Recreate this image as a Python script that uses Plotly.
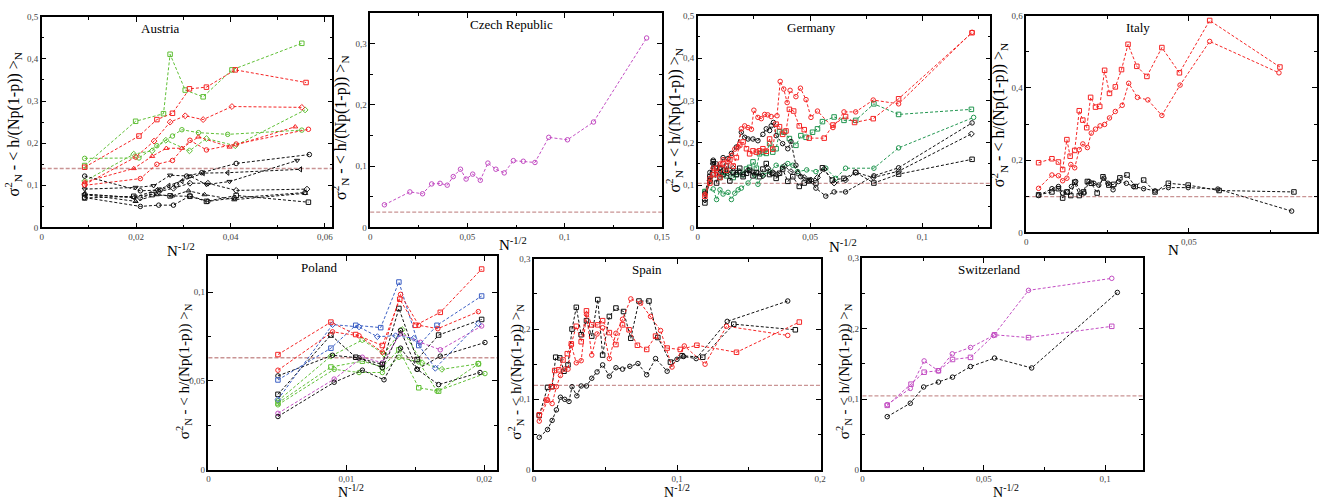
import plotly.graph_objects as go

# ---------------- DATA ----------------
countries = ["Austria", "Czech Republic", "Germany", "Italy", "Poland", "Spain", "Switzerland"]
x_titles = ["N<sup>-1/2</sup>", "N<sup>-1/2</sup>", "N<sup>-1/2</sup>", "N", "N<sup>-1/2</sup>", "N<sup>-1/2</sup>", "N<sup>-1/2</sup>"]
y_title = "σ<sup>2</sup><sub>N</sub> - < h/(Np(1-p)) ><sub>N</sub>"
ref_levels = [0.140, 0.025, 0.104, 0.099, 0.063, 0.120, 0.1045]

# Austria
at_green_sq_x = [0.0091, 0.0199, 0.0258, 0.0272, 0.0304, 0.0342, 0.0403, 0.0551]
at_green_sq_y = [0.147, 0.252, 0.270, 0.411, 0.326, 0.310, 0.374, 0.437]
at_red_sq_x = [0.0091, 0.0206, 0.0244, 0.0277, 0.0313, 0.0349, 0.0410, 0.0560]
at_red_sq_y = [0.143, 0.217, 0.256, 0.271, 0.329, 0.333, 0.374, 0.344]
at_red_di_x = [0.0091, 0.0199, 0.0238, 0.0272, 0.0304, 0.0342, 0.0403, 0.0551]
at_red_di_y = [0.102, 0.167, 0.205, 0.250, 0.265, 0.256, 0.287, 0.285]
at_red_tr_x = [0.0091, 0.0195, 0.0234, 0.0264, 0.0297, 0.0332, 0.0398, 0.0537]
at_red_tr_y = [0.108, 0.140, 0.169, 0.188, 0.188, 0.215, 0.191, 0.239]
at_red_ci_x = [0.0091, 0.0209, 0.0244, 0.0277, 0.0314, 0.0349, 0.0412, 0.0565]
at_red_ci_y = [0.100, 0.116, 0.150, 0.159, 0.207, 0.184, 0.198, 0.233]
at_green_ci_x = [0.0091, 0.0206, 0.0244, 0.0277, 0.0297, 0.0332, 0.0394, 0.0551]
at_green_ci_y = [0.164, 0.165, 0.194, 0.217, 0.232, 0.225, 0.221, 0.231]
at_green_di_x = [0.0091, 0.0195, 0.0234, 0.0263, 0.0313, 0.0349, 0.0410, 0.0558]
at_green_di_y = [0.110, 0.174, 0.182, 0.207, 0.182, 0.211, 0.194, 0.279]
at_blk_ci1_x = [0.0091, 0.0209, 0.0251, 0.0286, 0.0307, 0.0339, 0.0412, 0.0567]
at_blk_ci1_y = [0.122, 0.087, 0.089, 0.101, 0.122, 0.130, 0.152, 0.173]
at_blk_td_x = [0.0091, 0.0199, 0.0237, 0.0272, 0.0314, 0.0349, 0.0398, 0.0541]
at_blk_td_y = [0.091, 0.095, 0.099, 0.124, 0.122, 0.102, 0.109, 0.159]
at_blk_tl_x = [0.0091, 0.0195, 0.0244, 0.0269, 0.0297, 0.0342, 0.0394, 0.0548]
at_blk_tl_y = [0.079, 0.071, 0.089, 0.099, 0.110, 0.129, 0.130, 0.138]
at_blk_di_x = [0.0091, 0.0209, 0.0248, 0.0279, 0.0314, 0.0352, 0.0412, 0.0562]
at_blk_di_y = [0.079, 0.070, 0.085, 0.093, 0.105, 0.105, 0.088, 0.091]
at_blk_tu_x = [0.0091, 0.0199, 0.0244, 0.0276, 0.0311, 0.0345, 0.0408, 0.0558]
at_blk_tu_y = [0.078, 0.062, 0.078, 0.075, 0.087, 0.078, 0.066, 0.081]
at_blk_sq_x = [0.0091, 0.0195, 0.0234, 0.0272, 0.0314, 0.0349, 0.0412, 0.0565]
at_blk_sq_y = [0.070, 0.074, 0.078, 0.075, 0.074, 0.062, 0.076, 0.060]
at_blk_ci2_x = [0.0091, 0.0209, 0.0248, 0.0279, 0.0314, 0.0352, 0.0408, 0.0558]
at_blk_ci2_y = [0.071, 0.050, 0.053, 0.053, 0.075, 0.062, 0.070, 0.083]

# Czech Republic
cz_x = [0.0073, 0.0204, 0.0269, 0.0316, 0.0359, 0.0396, 0.0427, 0.0464, 0.0493, 0.0527, 0.0566,
        0.0605, 0.0646, 0.0689, 0.0736, 0.0787, 0.0847, 0.0918, 0.1014, 0.1148, 0.1421]
cz_y = [0.037, 0.058, 0.055, 0.071, 0.072, 0.069, 0.083, 0.095, 0.079, 0.087, 0.077,
        0.105, 0.095, 0.089, 0.109, 0.108, 0.106, 0.147, 0.143, 0.172, 0.309]

# Germany
de_red_ci_x = [0.0032, 0.0054, 0.0069, 0.0084, 0.0099, 0.0113, 0.0135, 0.0150, 0.0165, 0.0180, 0.0194, 0.0209,
               0.0224, 0.0239, 0.0250, 0.0268, 0.0283, 0.0298, 0.0312, 0.0327, 0.0353, 0.0367, 0.0383, 0.0398,
               0.0411, 0.0437, 0.0457, 0.0482, 0.0504, 0.0533, 0.0602, 0.0651, 0.0703, 0.0781, 0.0894, 0.1221]
de_red_ci_y = [0.078, 0.116, 0.140, 0.125, 0.150, 0.160, 0.155, 0.170, 0.185, 0.190, 0.233, 0.240,
               0.236, 0.232, 0.277, 0.260, 0.257, 0.267, 0.266, 0.262, 0.264, 0.345, 0.327, 0.295,
               0.324, 0.309, 0.329, 0.302, 0.260, 0.275, 0.236, 0.273, 0.273, 0.301, 0.292, 0.461]
de_red_sq_x = [0.0032, 0.0054, 0.0069, 0.0084, 0.0099, 0.0113, 0.0128, 0.0143, 0.0158, 0.0172, 0.0187, 0.0202,
               0.0217, 0.0231, 0.0246, 0.0261, 0.0275, 0.0290, 0.0305, 0.0320, 0.0334, 0.0349, 0.0364, 0.0378,
               0.0393, 0.0408, 0.0427, 0.0452, 0.0474, 0.0496, 0.0563, 0.0602, 0.0658, 0.0698, 0.0781, 0.0894, 0.1221]
de_red_sq_y = [0.074, 0.105, 0.125, 0.140, 0.118, 0.150, 0.135, 0.160, 0.145, 0.165, 0.195, 0.202,
               0.186, 0.174, 0.181, 0.178, 0.181, 0.186, 0.180, 0.209, 0.185, 0.244, 0.238, 0.220,
               0.228, 0.279, 0.275, 0.240, 0.231, 0.211, 0.211, 0.242, 0.262, 0.248, 0.257, 0.304, 0.460]
de_grn_sq_x = [0.0032, 0.0054, 0.0069, 0.0084, 0.0099, 0.0113, 0.0128, 0.0143, 0.0158, 0.0172, 0.0187, 0.0202,
               0.0217, 0.0231, 0.0246, 0.0261, 0.0275, 0.0290, 0.0305, 0.0320, 0.0334, 0.0349, 0.0364, 0.0386,
               0.0408, 0.0437, 0.0459, 0.0482, 0.0511, 0.0533, 0.0555, 0.0607, 0.0651, 0.0703, 0.0784, 0.0894, 0.1218]
de_grn_sq_y = [0.085, 0.110, 0.125, 0.140, 0.118, 0.130, 0.122, 0.135, 0.118, 0.125, 0.130, 0.125,
               0.138, 0.142, 0.155, 0.140, 0.174, 0.178, 0.175, 0.198, 0.178, 0.186, 0.226, 0.225,
               0.210, 0.194, 0.217, 0.213, 0.225, 0.233, 0.250, 0.261, 0.253, 0.253, 0.292, 0.267, 0.279]
de_grn_ci_x = [0.0032, 0.0069, 0.0084, 0.0099, 0.0113, 0.0135, 0.0150, 0.0165, 0.0180, 0.0194, 0.0224, 0.0253,
               0.0268, 0.0290, 0.0320, 0.0349, 0.0378, 0.0401, 0.0423, 0.0445, 0.0485, 0.0526, 0.0570, 0.0614,
               0.0658, 0.0784, 0.0894, 0.1228]
de_grn_ci_y = [0.085, 0.091, 0.066, 0.089, 0.079, 0.083, 0.066, 0.081, 0.089, 0.093, 0.105, 0.124,
               0.102, 0.124, 0.132, 0.147, 0.143, 0.151, 0.147, 0.132, 0.136, 0.132, 0.140, 0.116,
               0.140, 0.140, 0.188, 0.260]
de_blk_ci_x = [0.0032, 0.0054, 0.0069, 0.0084, 0.0099, 0.0113, 0.0135, 0.0150, 0.0172, 0.0194, 0.0209, 0.0224,
               0.0246, 0.0268, 0.0290, 0.0305, 0.0320, 0.0327, 0.0337, 0.0349, 0.0378, 0.0401, 0.0415, 0.0437,
               0.0459, 0.0496, 0.0526, 0.0570, 0.0607, 0.0658, 0.0784, 0.0894, 0.1221]
de_blk_ci_y = [0.081, 0.130, 0.159, 0.150, 0.140, 0.165, 0.163, 0.175, 0.190, 0.225, 0.213, 0.209,
               0.209, 0.205, 0.220, 0.233, 0.229, 0.240, 0.248, 0.217, 0.198, 0.186, 0.203, 0.147,
               0.120, 0.112, 0.093, 0.074, 0.084, 0.084, 0.122, 0.141, 0.247]
de_blk_sq_x = [0.0032, 0.0054, 0.0069, 0.0084, 0.0099, 0.0113, 0.0128, 0.0143, 0.0158, 0.0172, 0.0187, 0.0202,
               0.0217, 0.0231, 0.0246, 0.0261, 0.0275, 0.0290, 0.0305, 0.0320, 0.0334, 0.0349, 0.0364, 0.0378,
               0.0401, 0.0423, 0.0452, 0.0474, 0.0496, 0.0526, 0.0555, 0.0599, 0.0651, 0.0703, 0.0784, 0.0894, 0.1221]
de_blk_sq_y = [0.058, 0.120, 0.155, 0.105, 0.140, 0.125, 0.145, 0.110, 0.130, 0.125, 0.140, 0.120,
               0.128, 0.135, 0.122, 0.130, 0.120, 0.138, 0.151, 0.125, 0.128, 0.116, 0.128, 0.138,
               0.109, 0.120, 0.097, 0.105, 0.110, 0.105, 0.141, 0.112, 0.116, 0.130, 0.105, 0.126, 0.161]
de_blk_di_x = [0.0032, 0.0054, 0.0069, 0.0084, 0.0099, 0.0113, 0.0135, 0.0158, 0.0180, 0.0202, 0.0224, 0.0246,
               0.0268, 0.0290, 0.0312, 0.0334, 0.0356, 0.0386, 0.0415, 0.0445, 0.0474, 0.0504, 0.0533, 0.0563,
               0.0607, 0.0658, 0.0703, 0.0781, 0.0894, 0.1218]
de_blk_di_y = [0.065, 0.110, 0.150, 0.130, 0.120, 0.135, 0.128, 0.140, 0.132, 0.125, 0.135, 0.130,
               0.128, 0.122, 0.140, 0.130, 0.125, 0.145, 0.132, 0.128, 0.118, 0.112, 0.118, 0.138,
               0.105, 0.112, 0.130, 0.118, 0.133, 0.221]

# Italy
it_red_sq_x = [0.0038, 0.0079, 0.0099, 0.0112, 0.0125, 0.0135, 0.0149, 0.0163, 0.0174, 0.0186, 0.0198, 0.0213,
               0.0226, 0.0241, 0.0256, 0.0274, 0.0293, 0.0313, 0.0340, 0.0371, 0.0417, 0.0471, 0.0564, 0.0780]
it_red_sq_y = [0.193, 0.204, 0.195, 0.174, 0.257, 0.211, 0.227, 0.337, 0.311, 0.290, 0.374, 0.347,
               0.349, 0.449, 0.385, 0.403, 0.451, 0.521, 0.460, 0.432, 0.512, 0.442, 0.587, 0.458]
it_red_ci_x = [0.0038, 0.0079, 0.0099, 0.0112, 0.0125, 0.0137, 0.0149, 0.0163, 0.0174, 0.0188, 0.0200, 0.0213,
               0.0227, 0.0241, 0.0256, 0.0274, 0.0295, 0.0315, 0.0342, 0.0374, 0.0417, 0.0473, 0.0564, 0.0777]
it_red_ci_y = [0.122, 0.159, 0.157, 0.143, 0.150, 0.188, 0.179, 0.229, 0.245, 0.235, 0.275, 0.286,
               0.295, 0.299, 0.317, 0.335, 0.352, 0.413, 0.374, 0.367, 0.324, 0.408, 0.529, 0.442]
it_blk_sq_x = [0.0038, 0.0079, 0.0099, 0.0112, 0.0125, 0.0137, 0.0149, 0.0163, 0.0176, 0.0188, 0.0200, 0.0218,
               0.0236, 0.0254, 0.0269, 0.0288, 0.0310, 0.0335, 0.0361, 0.0396, 0.0437, 0.0498, 0.0593, 0.0823]
it_blk_sq_y = [0.104, 0.112, 0.121, 0.095, 0.112, 0.102, 0.139, 0.102, 0.112, 0.141, 0.136, 0.109,
               0.154, 0.131, 0.133, 0.151, 0.159, 0.127, 0.145, 0.112, 0.136, 0.131, 0.116, 0.112]
it_blk_ci_x = [0.0038, 0.0079, 0.0099, 0.0112, 0.0127, 0.0139, 0.0152, 0.0168, 0.0178, 0.0193, 0.0208, 0.0223,
               0.0239, 0.0251, 0.0267, 0.0284, 0.0308, 0.0330, 0.0361, 0.0396, 0.0437, 0.0498, 0.0589, 0.0816]
it_blk_ci_y = [0.102, 0.121, 0.127, 0.109, 0.112, 0.127, 0.141, 0.109, 0.109, 0.141, 0.136, 0.131,
               0.150, 0.136, 0.118, 0.141, 0.136, 0.127, 0.121, 0.115, 0.124, 0.124, 0.120, 0.059]

# Poland
pl_red1_x = [0.00504, 0.00888, 0.01068, 0.01261, 0.01387, 0.01501, 0.01681, 0.01981]
pl_red1_y = [0.0648, 0.0831, 0.0761, 0.0699, 0.0960, 0.0813, 0.0886, 0.1130]
pl_red2_x = [0.00504, 0.00900, 0.01092, 0.01261, 0.01393, 0.01525, 0.01663, 0.01957]
pl_red2_y = [0.0560, 0.0776, 0.0754, 0.0662, 0.0987, 0.0813, 0.0794, 0.0890]
pl_blue1_x = [0.00504, 0.00888, 0.01068, 0.01249, 0.01381, 0.01525, 0.01657, 0.01981]
pl_blue1_y = [0.0505, 0.0684, 0.0813, 0.0800, 0.1057, 0.0699, 0.0813, 0.0978]
pl_blue2_x = [0.00504, 0.00900, 0.01092, 0.01225, 0.01357, 0.01489, 0.01645, 0.01957]
pl_blue2_y = [0.0395, 0.0817, 0.0804, 0.0749, 0.0754, 0.0740, 0.0571, 0.0822]
pl_blk1_x = [0.00504, 0.00888, 0.01068, 0.01261, 0.01381, 0.01513, 0.01669, 0.01981]
pl_blk1_y = [0.0424, 0.0758, 0.0633, 0.0593, 0.0908, 0.0620, 0.0758, 0.0846]
pl_blk2_x = [0.00504, 0.00900, 0.01092, 0.01261, 0.01393, 0.01513, 0.01681, 0.02005]
pl_blk2_y = [0.0528, 0.0644, 0.0629, 0.0574, 0.0785, 0.0565, 0.0639, 0.0716]
pl_blk3_x = [0.00504, 0.00912, 0.01116, 0.01273, 0.01393, 0.01513, 0.01669, 0.01969]
pl_blk3_y = [0.0299, 0.0492, 0.0560, 0.0506, 0.0684, 0.0565, 0.0479, 0.0547]
pl_mag_x = [0.00504, 0.00912, 0.01116, 0.01261, 0.01393, 0.01537, 0.01681, 0.01981]
pl_mag_y = [0.0317, 0.0510, 0.0633, 0.0602, 0.0767, 0.0717, 0.0675, 0.0809]
pl_grn1_x = [0.00504, 0.00888, 0.01116, 0.01273, 0.01405, 0.01549, 0.01693, 0.01957]
pl_grn1_y = [0.0387, 0.0639, 0.0730, 0.0651, 0.0789, 0.0602, 0.0565, 0.0596]
pl_grn2_x = [0.00504, 0.00888, 0.01116, 0.01261, 0.01381, 0.01525, 0.01669, 0.01957]
pl_grn2_y = [0.0375, 0.0578, 0.0611, 0.0578, 0.0675, 0.0461, 0.0442, 0.0596]
pl_grn3_x = [0.00504, 0.00912, 0.01092, 0.01261, 0.01381, 0.01525, 0.01657, 0.02005]
pl_grn3_y = [0.0365, 0.0565, 0.0547, 0.0547, 0.0633, 0.0607, 0.0442, 0.0541]

# Spain
es_blk_ci_x = [0.0037, 0.0095, 0.0127, 0.0157, 0.0185, 0.0215, 0.0245, 0.0266, 0.0300, 0.0330, 0.0367, 0.0404,
               0.0441, 0.0480, 0.0527, 0.0573, 0.0619, 0.0670, 0.0727, 0.0788, 0.0850, 0.0931, 0.1000, 0.1046,
               0.1134, 0.1351, 0.1774]
es_blk_ci_y = [0.046, 0.057, 0.070, 0.085, 0.103, 0.100, 0.097, 0.118, 0.105, 0.119, 0.119, 0.130,
               0.139, 0.149, 0.133, 0.145, 0.143, 0.147, 0.151, 0.135, 0.158, 0.140, 0.157, 0.161,
               0.158, 0.211, 0.240]
es_blk_sq_x = [0.0037, 0.0095, 0.0127, 0.0152, 0.0180, 0.0210, 0.0238, 0.0266, 0.0296, 0.0330, 0.0367, 0.0404,
               0.0446, 0.0480, 0.0527, 0.0573, 0.0626, 0.0677, 0.0734, 0.0804, 0.0866, 0.0954, 0.1035, 0.1180,
               0.1397, 0.1827]
es_blk_sq_y = [0.077, 0.117, 0.118, 0.160, 0.159, 0.140, 0.149, 0.200, 0.231, 0.192, 0.212, 0.190,
               0.242, 0.163, 0.218, 0.230, 0.225, 0.187, 0.240, 0.240, 0.188, 0.153, 0.162, 0.160,
               0.207, 0.199]
es_red_sq_x = [0.0037, 0.0088, 0.0122, 0.0145, 0.0173, 0.0203, 0.0233, 0.0261, 0.0296, 0.0330, 0.0367, 0.0404,
               0.0446, 0.0480, 0.0527, 0.0573, 0.0619, 0.0665, 0.0723, 0.0788, 0.0850, 0.0931, 0.1023, 0.1139,
               0.1416, 0.1855]
es_red_sq_y = [0.078, 0.099, 0.118, 0.141, 0.142, 0.156, 0.165, 0.179, 0.204, 0.182, 0.226, 0.206,
               0.206, 0.212, 0.195, 0.178, 0.206, 0.199, 0.177, 0.171, 0.190, 0.173, 0.171, 0.177,
               0.167, 0.210]
es_red_ci_x = [0.0037, 0.0095, 0.0127, 0.0157, 0.0185, 0.0215, 0.0238, 0.0261, 0.0296, 0.0330, 0.0367, 0.0404,
               0.0441, 0.0480, 0.0527, 0.0573, 0.0619, 0.0677, 0.0746, 0.0815, 0.0885, 0.0965, 0.1051, 0.1196,
               0.1346, 0.1774]
es_red_ci_y = [0.069, 0.099, 0.094, 0.118, 0.134, 0.143, 0.143, 0.177, 0.152, 0.155, 0.221, 0.163,
               0.193, 0.202, 0.158, 0.194, 0.214, 0.243, 0.237, 0.218, 0.198, 0.146, 0.176, 0.150,
               0.204, 0.191]

# Switzerland
ch_blk_x = [0.0102, 0.0197, 0.0252, 0.0313, 0.0371, 0.0445, 0.0544, 0.0697, 0.1050]
ch_blk_y = [0.075, 0.094, 0.117, 0.124, 0.131, 0.146, 0.158, 0.144, 0.251]
ch_mag_ci_x = [0.0102, 0.0197, 0.0254, 0.0313, 0.0370, 0.0445, 0.0540, 0.0684, 0.1027]
ch_mag_ci_y = [0.092, 0.115, 0.154, 0.140, 0.164, 0.173, 0.190, 0.254, 0.271]
ch_mag_sq_x = [0.0102, 0.0200, 0.0254, 0.0313, 0.0371, 0.0445, 0.0544, 0.0684, 0.1027]
ch_mag_sq_y = [0.091, 0.121, 0.138, 0.140, 0.156, 0.159, 0.191, 0.187, 0.203]

# ---------------- STYLE / LAYOUT ----------------
RED = "#f52525"
GRN_L = "#5fbf35"
GRN_D = "#229650"
BLK = "#111111"
BLUE = "#3b5fc4"
MAG = "#c24cc2"
REF = "#c99494"
FONT = "Liberation Serif"
W, H = 1327, 503

series = [
    [  # Austria
        (at_green_sq_x, at_green_sq_y, GRN_L, "square-open"),
        (at_green_ci_x, at_green_ci_y, GRN_L, "circle-open"),
        (at_green_di_x, at_green_di_y, GRN_L, "diamond-open"),
        (at_red_sq_x, at_red_sq_y, RED, "square-open"),
        (at_red_di_x, at_red_di_y, RED, "diamond-open"),
        (at_red_tr_x, at_red_tr_y, RED, "triangle-up-open"),
        (at_red_ci_x, at_red_ci_y, RED, "circle-open"),
        (at_blk_ci1_x, at_blk_ci1_y, BLK, "circle-open"),
        (at_blk_td_x, at_blk_td_y, BLK, "triangle-down-open"),
        (at_blk_tl_x, at_blk_tl_y, BLK, "triangle-left-open"),
        (at_blk_di_x, at_blk_di_y, BLK, "diamond-open"),
        (at_blk_tu_x, at_blk_tu_y, BLK, "triangle-up-open"),
        (at_blk_sq_x, at_blk_sq_y, BLK, "square-open"),
        (at_blk_ci2_x, at_blk_ci2_y, BLK, "circle-open"),
    ],
    [(cz_x, cz_y, MAG, "circle-open")],
    [  # Germany
        (de_grn_sq_x, de_grn_sq_y, GRN_D, "square-open"),
        (de_grn_ci_x, de_grn_ci_y, GRN_D, "circle-open"),
        (de_blk_ci_x, de_blk_ci_y, BLK, "circle-open"),
        (de_blk_sq_x, de_blk_sq_y, BLK, "square-open"),
        (de_blk_di_x, de_blk_di_y, BLK, "diamond-open"),
        (de_red_ci_x, de_red_ci_y, RED, "circle-open"),
        (de_red_sq_x, de_red_sq_y, RED, "square-open"),
    ],
    [  # Italy
        (it_red_sq_x, it_red_sq_y, RED, "square-open"),
        (it_red_ci_x, it_red_ci_y, RED, "circle-open"),
        (it_blk_sq_x, it_blk_sq_y, BLK, "square-open"),
        (it_blk_ci_x, it_blk_ci_y, BLK, "circle-open"),
    ],
    [  # Poland
        (pl_grn1_x, pl_grn1_y, GRN_L, "diamond-open"),
        (pl_grn2_x, pl_grn2_y, GRN_L, "square-open"),
        (pl_grn3_x, pl_grn3_y, GRN_L, "circle-open"),
        (pl_mag_x, pl_mag_y, MAG, "circle-open"),
        (pl_blk1_x, pl_blk1_y, BLK, "square-open"),
        (pl_blk2_x, pl_blk2_y, BLK, "circle-open"),
        (pl_blk3_x, pl_blk3_y, BLK, "circle-open"),
        (pl_blue1_x, pl_blue1_y, BLUE, "square-open"),
        (pl_blue2_x, pl_blue2_y, BLUE, "diamond-open"),
        (pl_red1_x, pl_red1_y, RED, "square-open"),
        (pl_red2_x, pl_red2_y, RED, "circle-open"),
    ],
    [  # Spain
        (es_blk_ci_x, es_blk_ci_y, BLK, "circle-open"),
        (es_blk_sq_x, es_blk_sq_y, BLK, "square-open"),
        (es_red_sq_x, es_red_sq_y, RED, "square-open"),
        (es_red_ci_x, es_red_ci_y, RED, "circle-open"),
    ],
    [  # Switzerland
        (ch_blk_x, ch_blk_y, BLK, "circle-open"),
        (ch_mag_ci_x, ch_mag_ci_y, MAG, "circle-open"),
        (ch_mag_sq_x, ch_mag_sq_y, MAG, "square-open"),
    ],
]

# panel boxes in pixels: (left, right, top, bottom)
boxes = [(40, 333, 12, 227), (371, 665, 8, 227), (701, 996, 11, 227), (1032, 1325, 11, 232),
         (208, 499, 256, 474), (536, 825, 259, 474), (867, 1150, 258, 474)]
xranges = [[0, 0.0616], [0, 0.150], [0, 0.1303], [0, 0.0894], [0, 0.02094], [0, 0.2005], [0, 0.1157]]
yranges = [[0, 0.5], [0, 0.35], [0, 0.5], [0, 0.6], [0, 0.1204], [0, 0.3], [0, 0.3]]
xdt = [(0.02, 0.01), (0.05, 0.025), (0.05, 0.025), (0.05, 0.025), (0.01, 0.005), (0.1, 0.05), (0.05, 0.025)]
ydt = [(0.1, 0.05), (0.1, 0.05), (0.1, 0.05), (0.2, 0.1), (0.05, 0.025), (0.1, 0.05), (0.1, 0.05)]
title_pos = [(160, 24), (513, 20), (816, 23), (1145, 23), (320, 268), (650, 270), (995, 270)]
# (x, y, yanchor, size) of x-axis titles
xtitle_pos = [(180, 250, "middle", 15), (515, 244, "middle", 15), (847, 246, "middle", 15),
              (1180, 250, "middle", 15),
              (352, 507, "bottom", 14), (680, 507, "bottom", 14), (1012, 507, "bottom", 14)]
ytitle_pos = [(11, 122), (340, 125), (677, 118), (1004, 112), (183, 374), (517, 374), (848, 374)]
ytitle_size = [16, 16, 16, 16, 15, 15, 15]


def px(x):
    return x / W


def py(y):
    return 1 - y / H


fig = go.Figure()
annotations = []
shapes = []
for i, name in enumerate(countries):
    k = "" if i == 0 else str(i + 1)
    xa, ya = "x" + k, "y" + k
    for sx, sy, col, sym in series[i]:
        fig.add_trace(go.Scatter(
            x=sx, y=sy, xaxis=xa, yaxis=ya, mode="lines+markers",
            line=dict(color=col, width=1, dash="3px,2px"),
            marker=dict(symbol=sym, size=4.5, color=col, line=dict(color=col, width=1)),
            showlegend=False, hoverinfo="skip"))
    l, r, t, b = boxes[i]
    axis_common = dict(showline=True, linecolor="black", linewidth=1.5, mirror="ticks",
                       ticks="inside", ticklen=5, tickwidth=1, tickcolor="black",
                       showgrid=False, zeroline=False,
                       tickfont=dict(family=FONT, size=9, color="#444"))
    fig.update_layout(**{
        "xaxis" + k: dict(domain=[px(l), px(r)], range=xranges[i], anchor=ya, tick0=0, dtick=xdt[i][0],
                          minor=dict(dtick=xdt[i][1], ticks="inside", ticklen=3, tickcolor="black", showgrid=False),
                          **axis_common),
        "yaxis" + k: dict(domain=[py(b), py(t)], range=yranges[i], anchor=xa, tick0=0, dtick=ydt[i][0],
                          minor=dict(dtick=ydt[i][1], ticks="inside", ticklen=3, tickcolor="black", showgrid=False),
                          **axis_common),
    })
    shapes.append(dict(type="line", xref=xa + " domain", yref=ya, x0=0, x1=1,
                       y0=ref_levels[i], y1=ref_levels[i],
                       line=dict(color=REF, width=1.3, dash="4px,2px"), layer="below"))
    anc = dict(xref="paper", yref="paper", xanchor="center", showarrow=False)
    tx, ty = title_pos[i]
    annotations.append(dict(text=name, x=px(tx), y=py(ty), yanchor="middle",
                            font=dict(family=FONT, size=13, color="black"), **anc))
    qx, qy, qa, qs = xtitle_pos[i]
    annotations.append(dict(text=x_titles[i], x=px(qx), y=py(qy), yanchor=qa,
                            font=dict(family=FONT, size=qs, color="black"), **anc))
    wx, wy = ytitle_pos[i]
    annotations.append(dict(text=y_title, x=px(wx), y=py(wy), yanchor="middle", textangle=-90,
                            font=dict(family=FONT, size=ytitle_size[i], color="black"), **anc))

fig.update_layout(width=W, height=H, margin=dict(l=0, r=0, t=0, b=0),
                  plot_bgcolor="white", paper_bgcolor="white", separators=", ",
                  annotations=annotations, shapes=shapes, showlegend=False)
fig.write_html("out.html", config={"displayModeBar": False},
               post_script="document.body.style.margin='0';document.body.style.overflow='hidden';")
